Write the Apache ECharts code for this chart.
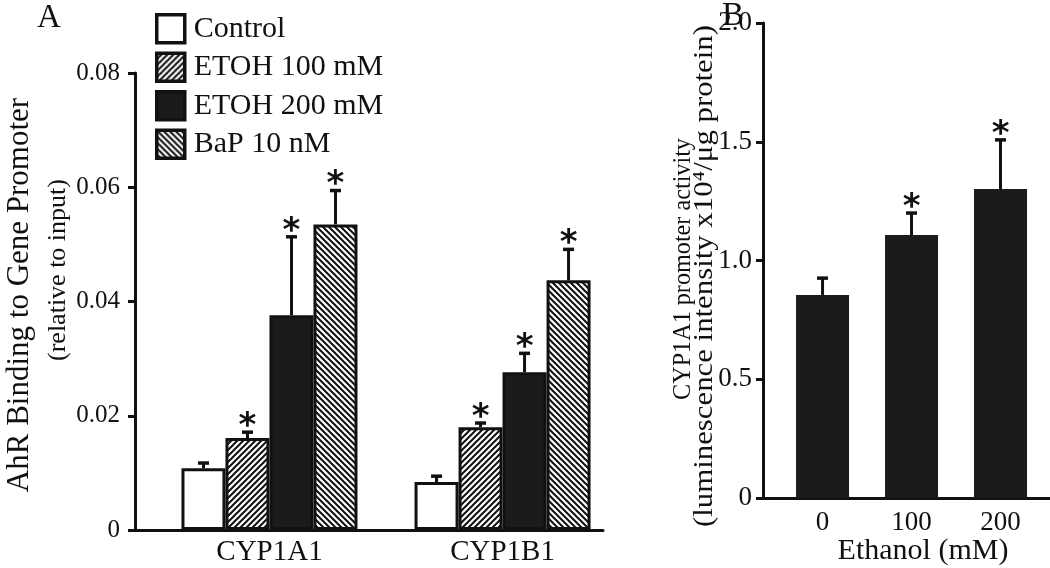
<!DOCTYPE html>
<html>
<head>
<meta charset="utf-8">
<script src="https://cdn.jsdelivr.net/npm/echarts@6/dist/echarts.min.js"></script>
<style>
html,body{margin:0;padding:0;background:#fff;}
#main{width:1050px;height:568px;}
</style>
</head>
<body>
<div id="main"></div>
<script>
// ---------- Data ----------
// Panel A
const genes = ['CYP1A1', 'CYP1B1'];
const groupNames = ['Control', 'ETOH 100 mM', 'ETOH 200 mM', 'BaP 10 nM'];
const controlVals = [0.0108, 0.0084];
const etoh100Vals = [0.0161, 0.0180];
const etoh200Vals = [0.0376, 0.0276];
const bapVals     = [0.0535, 0.0437];
const controlErr  = [0.0119, 0.0096];
const etoh100Err  = [0.0173, 0.0189];
const etoh200Err  = [0.0515, 0.0311];
const bapErr      = [0.0596, 0.0493];
const controlSig  = [0, 0];
const etoh100Sig  = [1, 1];
const etoh200Sig  = [1, 1];
const bapSig      = [1, 1];
const yTicksA = [0, 0.02, 0.04, 0.06, 0.08];
// Panel B
const ethanolDoses = ['0', '100', '200'];
const activityVals = [0.855, 1.107, 1.301];
const activityErr  = [0.930, 1.204, 1.512];
const activitySig  = [0, 1, 1];
const yTicksB = [0, 0.5, 1.0, 1.5, 2.0];

// ---------- Styling helpers ----------
const INK = '#111';
const BAR_BLACK = '#1b1b1b';
const FONT = 'Liberation Serif';

function hatch(dir) {
  const s = 6;
  const c = document.createElement('canvas');
  c.width = s; c.height = s;
  const g = c.getContext('2d');
  g.fillStyle = '#fff'; g.fillRect(0, 0, s, s);
  g.strokeStyle = INK; g.lineWidth = 2;
  g.beginPath();
  if (dir > 0) {
    g.moveTo(-1, s + 1); g.lineTo(s + 1, -1);
    g.moveTo(-1, 1); g.lineTo(1, -1);
    g.moveTo(s - 1, s + 1); g.lineTo(s + 1, s - 1);
  } else {
    g.moveTo(-1, -1); g.lineTo(s + 1, s + 1);
    g.moveTo(s - 1, -1); g.lineTo(s + 1, 1);
    g.moveTo(-1, s - 1); g.lineTo(1, s + 1);
  }
  g.stroke();
  return c;
}
const fwdPattern = { image: hatch(1), repeat: 'repeat' };
const backPattern = { image: hatch(-1), repeat: 'repeat' };

const BAR_W_A = 44;
const BAR_W_B = 53;

const groupsA = [
  { name: groupNames[0], vals: controlVals, err: controlErr, sig: controlSig, fill: '#fff' },
  { name: groupNames[1], vals: etoh100Vals, err: etoh100Err, sig: etoh100Sig, fill: fwdPattern },
  { name: groupNames[2], vals: etoh200Vals, err: etoh200Err, sig: etoh200Sig, fill: BAR_BLACK },
  { name: groupNames[3], vals: bapVals,     err: bapErr,     sig: bapSig,     fill: backPattern }
];

function errRenderer(offsetPx) {
  return function (params, api) {
    const x = api.value(0), top = api.value(1), err = api.value(2), sig = api.value(3);
    const p = api.coord([x, top]);
    const q = api.coord([x, err]);
    const cx = p[0] + offsetPx;
    const children = [
      { type: 'line', shape: { x1: cx, y1: p[1], x2: cx, y2: q[1] }, style: { stroke: INK, lineWidth: 3 } },
      { type: 'line', shape: { x1: cx - 5.5, y1: q[1] + 1, x2: cx + 5.5, y2: q[1] + 1 }, style: { stroke: INK, lineWidth: 3.5 } }
    ];
    if (sig) {
      children.push({
        type: 'text',
        style: { text: '*', x: cx, y: q[1] + 13, align: 'center', verticalAlign: 'bottom',
                 font: 'bold 34px "DejaVu Sans"', fill: INK }
      });
    }
    return { type: 'group', children: children };
  };
}

const series = [];
groupsA.forEach(function (g, i) {
  series.push({
    type: 'bar', name: g.name, xAxisIndex: 0, yAxisIndex: 0,
    barWidth: BAR_W_A, barGap: '0%',
    itemStyle: { color: g.fill, borderColor: INK, borderWidth: 3 },
    data: genes.map(function (c, k) { return [k, g.vals[k]]; }),
    z: 2
  });
});
groupsA.forEach(function (g, i) {
  series.push({
    type: 'custom', xAxisIndex: 0, yAxisIndex: 0, z: 3, clip: false,
    renderItem: errRenderer((i - 1.5) * BAR_W_A),
    data: genes.map(function (c, k) { return [k, g.vals[k], g.err[k], g.sig[k]]; })
  });
});
series.push({
  type: 'bar', name: 'ethanol', xAxisIndex: 1, yAxisIndex: 1,
  barWidth: BAR_W_B, itemStyle: { color: BAR_BLACK },
  data: ethanolDoses.map(function (d, k) { return [k, activityVals[k]]; }), z: 2
});
series.push({
  type: 'custom', xAxisIndex: 1, yAxisIndex: 1, z: 3, clip: false,
  renderItem: errRenderer(0),
  data: ethanolDoses.map(function (d, k) { return [k, activityVals[k], activityErr[k], activitySig[k]]; })
});

const axisLineStyle = { color: INK, width: 3 };
function lab(size) { return { fontFamily: FONT, fontSize: size, color: INK }; }

const option = {
  animation: false,
  backgroundColor: '#fff',
  legend: {
    data: groupNames,
    orient: 'vertical', left: 155, top: 13, padding: 0,
    itemWidth: 28, itemHeight: 28, itemGap: 7,
    icon: 'rect',
    itemStyle: { borderColor: INK, borderWidth: 3.5 },
    textStyle: { fontFamily: FONT, fontSize: 30, color: INK, padding: [0, 0, 0, 4] }
  },
  grid: [
    { left: 135, top: 73, right: 447, bottom: 38, containLabel: false },
    { left: 763, top: 23, right: 0, bottom: 70, containLabel: false }
  ],
  xAxis: [
    {
      type: 'value', gridIndex: 0, min: -0.577, max: 1.431,
      splitLine: { show: false },
      axisLine: { show: true, lineStyle: axisLineStyle, onZero: false },
      axisTick: { show: false },
      axisLabel: Object.assign({ customValues: genes.map(function (c, k) { return k; }), margin: 8,
        formatter: function (v) { return genes[Math.round(v)]; } }, lab(29))
    },
    {
      type: 'value', gridIndex: 1, min: -0.669, max: 2.556,
      splitLine: { show: false },
      axisLine: { show: true, lineStyle: axisLineStyle, onZero: false },
      axisTick: { show: false },
      axisLabel: Object.assign({ customValues: ethanolDoses.map(function (d, k) { return k; }), margin: 11,
        formatter: function (v) { return ethanolDoses[Math.round(v)]; } }, lab(27))
    }
  ],
  yAxis: [
    {
      type: 'value', gridIndex: 0, min: yTicksA[0], max: yTicksA[yTicksA.length - 1], interval: 0.02,
      splitLine: { show: false },
      axisLine: { show: true, lineStyle: axisLineStyle, onZero: false },
      axisTick: { show: true, length: 7, lineStyle: { color: INK, width: 3 } },
      axisLabel: Object.assign({ margin: 15, formatter: function (v) { return v === 0 ? '0' : v.toFixed(2); } }, lab(25))
    },
    {
      type: 'value', gridIndex: 1, min: yTicksB[0], max: yTicksB[yTicksB.length - 1], interval: 0.5,
      splitLine: { show: false },
      axisLine: { show: true, lineStyle: axisLineStyle, onZero: false },
      axisTick: { show: true, length: 7, lineStyle: { color: INK, width: 3 } },
      axisLabel: Object.assign({ margin: 11, formatter: function (v) { return v === 0 ? '0' : v.toFixed(1); } }, lab(27))
    }
  ],
  graphic: [
    { type: 'text', left: 37, top: 2, style: { text: 'A', font: '33px "' + FONT + '"', fill: INK } },
    { type: 'text', left: 722, top: 0, style: { text: 'B', font: '33px "' + FONT + '"', fill: INK } },
    { type: 'text', x: 20, y: 295, rotation: Math.PI / 2,
      style: { text: 'AhR Binding to Gene Promoter', font: '31px "' + FONT + '"', fill: INK, align: 'center', verticalAlign: 'middle' } },
    { type: 'text', x: 58, y: 270, rotation: Math.PI / 2,
      style: { text: '(relative to input)', font: '26px "' + FONT + '"', fill: INK, align: 'center', verticalAlign: 'middle' } },
    { type: 'text', x: 683, y: 269, rotation: Math.PI / 2, scaleX: 0.93,
      style: { text: 'CYP1A1 promoter activity', font: '26px "' + FONT + '"', fill: INK, align: 'center', verticalAlign: 'middle' } },
    { type: 'text', x: 705, y: 276, rotation: Math.PI / 2, scaleX: 1.1,
      style: { text: '(luminescence intensity x10\u2074/\u03bcg protein)', font: '28px "' + FONT + '"', fill: INK, align: 'center', verticalAlign: 'middle' } },
    { type: 'text', x: 923, y: 551,
      style: { text: 'Ethanol (mM)', font: '30px "' + FONT + '"', fill: INK, align: 'center', verticalAlign: 'middle' } }
  ],
  series: series
};

const chart = echarts.init(document.getElementById('main'), null, { renderer: 'canvas' });
chart.setOption(option);
</script>
</body>
</html>
